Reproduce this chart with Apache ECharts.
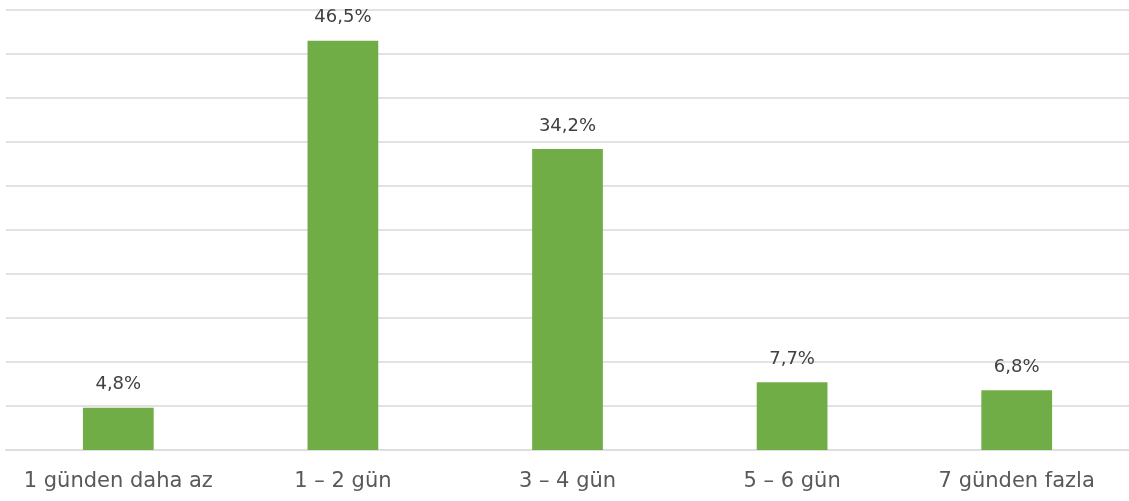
<!DOCTYPE html>
<html>
<head>
<meta charset="utf-8">
<script src="https://cdn.jsdelivr.net/npm/echarts@6/dist/echarts.min.js"></script>
<style>
  html, body { margin: 0; padding: 0; background: #ffffff; }
  #chart { width: 1129px; height: 501px; }
</style>
</head>
<body>
<div id="chart"></div>
<script>
// Share of respondents by number of days
const categories = ['1 günden daha az', '1 – 2 gün', '3 – 4 gün', '5 – 6 gün', '7 günden fazla'];
const values = [4.8, 46.5, 34.2, 7.7, 6.8];

const chart = echarts.init(document.getElementById('chart'), null, { renderer: 'canvas' });

chart.setOption({
  animation: false,
  backgroundColor: '#ffffff',
  grid: { left: 6, right: -5, top: 10, bottom: 51, containLabel: false },
  xAxis: {
    type: 'category',
    data: categories,
    axisLine: { show: true, lineStyle: { color: '#dedede', width: 2 } },
    axisTick: { show: false },
    axisLabel: {
      interval: 0,
      hideOverlap: false,
      color: '#595959',
      fontFamily: 'DejaVu Sans',
      fontSize: 21,
      margin: 21
    }
  },
  yAxis: {
    type: 'value',
    min: 0,
    max: 50,
    interval: 5,
    axisLine: { show: false },
    axisTick: { show: false },
    axisLabel: { show: false },
    splitLine: { lineStyle: { color: '#e2e2e2', width: 2 } }
  },
  series: [{
    type: 'bar',
    data: values,
    barWidth: '31.5%',
    itemStyle: { color: '#70ad47' },
    label: {
      show: true,
      position: 'top',
      distance: 14,
      color: '#404040',
      fontFamily: 'DejaVu Sans',
      fontSize: 18,
      formatter: p => p.value.toFixed(1).replace('.', ',') + '%'
    }
  }]
});
</script>
</body>
</html>
